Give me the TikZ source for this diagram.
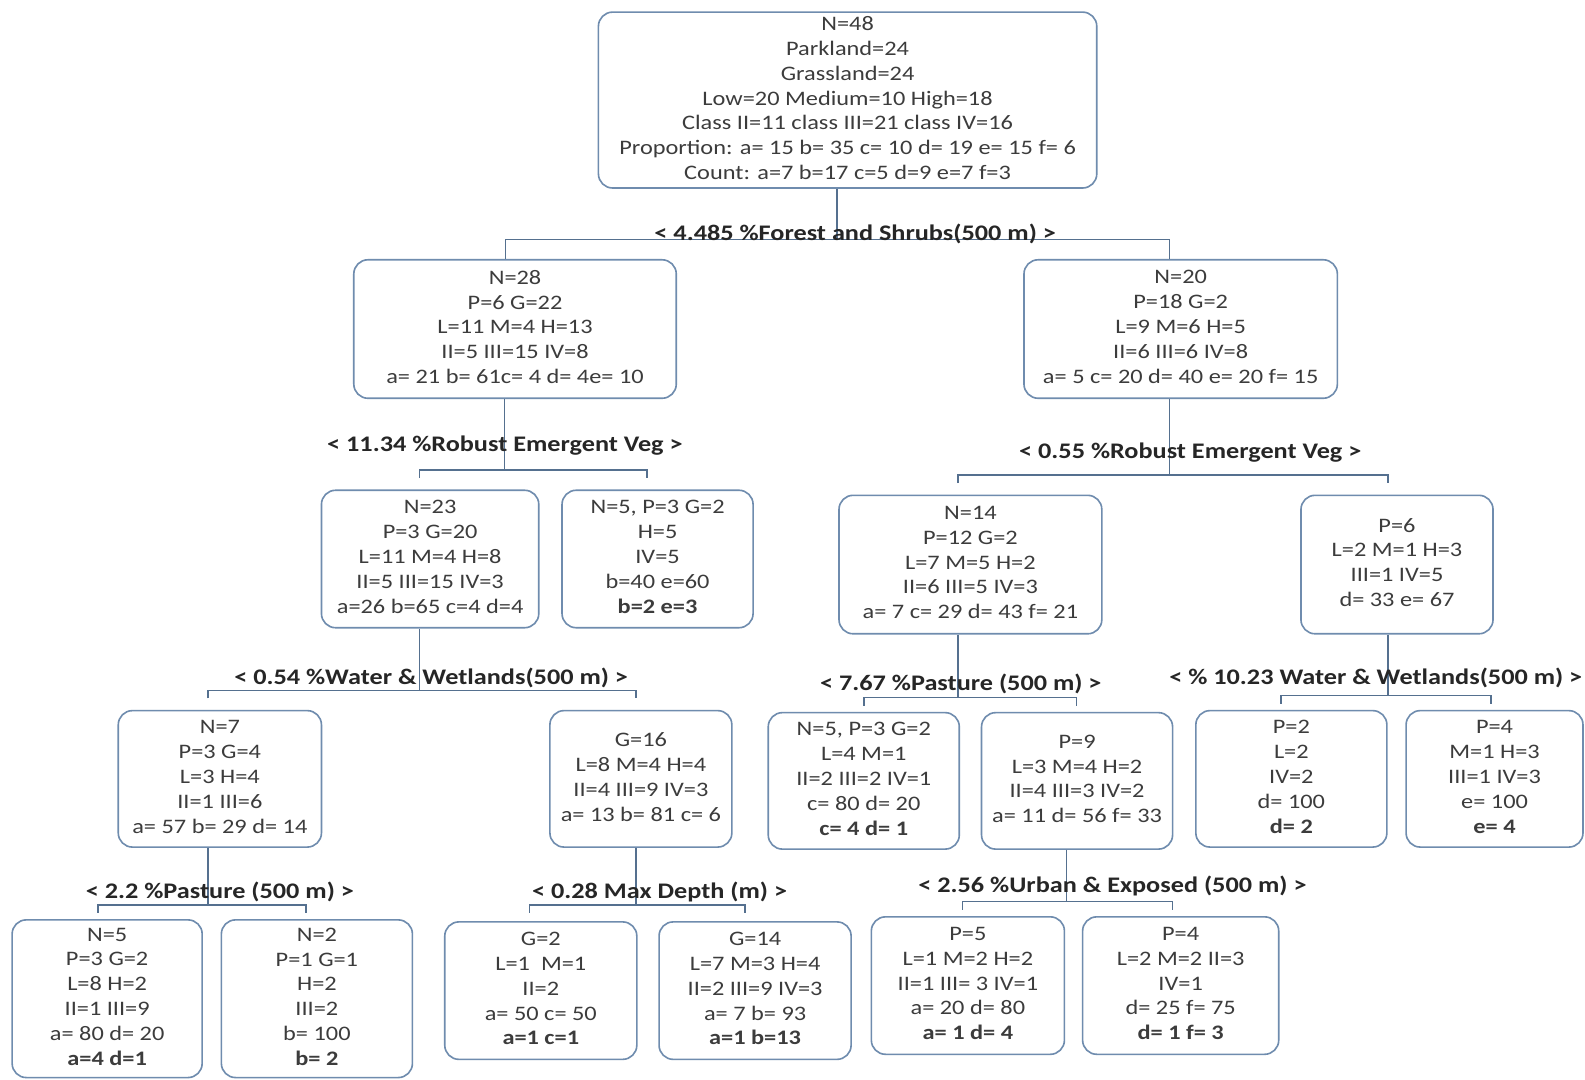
\documentclass[tikz,border=0pt]{standalone}
\usepackage{fontspec}
\setmainfont{Carlito}[FakeStretch=1.18]
\definecolor{boxc}{HTML}{6F8CAE}
\definecolor{linec}{HTML}{55708F}
\definecolor{txtc}{HTML}{3C3C3C}
\definecolor{lblc}{HTML}{262626}
\newcommand\bxnode[5]{\node[bx={#3}{#4}] (#1) at (#2) {}; \node[tx] (#1t) at ([yshift=1pt]#1.center) {#5};}
\begin{document}
\begin{tikzpicture}[x=0.5pt,y=-0.5pt,
 bx/.style n args={2}{draw=boxc, line width=0.8pt, rounded corners=7pt, fill=white, inner sep=0pt, minimum width=#1*0.5pt, minimum height=#2*0.5pt},
 tx/.style={align=center, text=txtc, font=\fontsize{10.2}{12.3}\selectfont, inner sep=0pt},
 lbl/.style={font=\bfseries\fontsize{11}{13}\selectfont, text=lblc, anchor=base, inner sep=0pt},
 conn/.style={draw=linec, line width=0.8pt}]
\useasboundingbox[fill=white] (0,0) rectangle (1568,1068);

% ---- boxes ----
\bxnode{root}{838.5,99}{493}{174}{N=48\\Parkland=24\\Grassland=24\\Low=20 Medium=10 High=18\\Class II=11 class III=21 class IV=16\\Proportion: a= 15 b= 35 c= 10 d= 19 e= 15 f= 6\\Count: a=7 b=17 c=5 d=9 e=7 f=3}
\bxnode{L}{509.5,325.5}{319}{137}{N=28\\P=6 G=22\\L=11 M=4 H=13\\II=5 III=15 IV=8\\a= 21 b= 61c= 4 d= 4e= 10}
\bxnode{R}{1168,325.5}{310}{137}{N=20\\P=18 G=2\\L=9 M=6 H=5\\II=6 III=6 IV=8\\a= 5 c= 20 d= 40 e= 20 f= 15}
\bxnode{LL}{425.5,553}{215}{136}{N=23\\P=3 G=20\\L=11 M=4 H=8\\II=5 III=15 IV=3\\a=26 b=65 c=4 d=4}
\bxnode{LR}{650.5,553}{189}{136}{N=5, P=3 G=2\\H=5\\IV=5\\b=40 e=60\\\textbf{b=2 e=3}}
\bxnode{RL}{960,558.5}{260}{137}{N=14\\P=12 G=2\\L=7 M=5 H=2\\II=6 III=5 IV=3\\a= 7 c= 29 d= 43 f= 21}
\bxnode{RR}{1382,558.5}{190}{137}{P=6\\L=2 M=1 H=3\\III=1 IV=5\\d= 33 e= 67}
\bxnode{LLL}{217.5,770.5}{201}{135}{N=7\\P=3 G=4\\L=3 H=4\\II=1 III=6\\a= 57 b= 29 d= 14}
\bxnode{LLR}{634,770.5}{180}{135}{G=16\\L=8 M=4 H=4\\II=4 III=9 IV=3\\a= 13 b= 81 c= 6}
\bxnode{RLL}{854.5,772.5}{189}{135}{N=5, P=3 G=2\\L=4 M=1\\II=2 III=2 IV=1\\c= 80 d= 20\\\textbf{c= 4 d= 1}}
\bxnode{RLR}{1065.5,772.5}{189}{135}{P=9\\L=3 M=4 H=2\\II=4 III=3 IV=2\\a= 11 d= 56 f= 33}
\bxnode{RRL}{1277.5,770.5}{189}{135}{P=2\\L=2\\IV=2\\d= 100\\\textbf{d= 2}}
\bxnode{RRR}{1478.5,770.5}{175}{135}{P=4\\M=1 H=3\\III=1 IV=3\\e= 100\\\textbf{e= 4}}
\bxnode{LLLL}{106,988}{188}{156}{N=5\\P=3 G=2\\L=8 H=2\\II=1 III=9\\a= 80 d= 20\\\textbf{a=4 d=1}}
\bxnode{LLLR}{313.5,988}{189}{156}{N=2\\P=1 G=1\\H=2\\III=2\\b= 100\\\textbf{b= 2}}
\bxnode{LLRL}{535,980}{190}{136}{G=2\\L=1\ \ M=1\\II=2\\a= 50 c= 50\\\textbf{a=1 c=1}}
\bxnode{LLRR}{747,980}{190}{136}{G=14\\L=7 M=3 H=4\\II=2 III=9 IV=3\\a= 7 b= 93\\\textbf{a=1 b=13}}
\bxnode{RLRL}{957.5,975}{191}{136}{P=5\\L=1 M=2 H=2\\II=1 III= 3 IV=1\\a= 20 d= 80\\\textbf{a= 1 d= 4}}
\bxnode{RLRR}{1168,975}{194}{136}{P=4\\L=2 M=2 II=3\\IV=1\\d= 25 f= 75\\\textbf{d= 1 f= 3}}

% ---- split coordinates ----
\coordinate (s0) at (828,237);  \coordinate (b0l) at (500,237);  \coordinate (b0r) at (1157,237);
\coordinate (s1) at (499,465);  \coordinate (b1l) at (415,465);  \coordinate (b1r) at (640,465);
\coordinate (s2) at (1157,470); \coordinate (b2l) at (948,470);  \coordinate (b2r) at (1373,470);
\coordinate (s3) at (415,683);  \coordinate (b3l) at (206,683);  \coordinate (b3r) at (629,683);
\coordinate (s4) at (948,690);  \coordinate (b4l) at (855,690);  \coordinate (b4r) at (1065,690);
\coordinate (s5) at (1373,688); \coordinate (b5l) at (1267,688); \coordinate (b5r) at (1475,688);
\coordinate (s6) at (206,895);  \coordinate (b6l) at (97,895);   \coordinate (b6r) at (303,895);
\coordinate (s7) at (629,895);  \coordinate (b7l) at (524,895);  \coordinate (b7r) at (737,895);
\coordinate (s8) at (1055,892); \coordinate (b8l) at (952,892);  \coordinate (b8r) at (1160,892);

% ---- connectors ----
\draw[conn] (root.south -| s0) -- (s0);
\draw[conn] (L.north -| b0l) -- (b0l) -- (b0r) -- (R.north -| b0r);
\draw[conn] (L.south -| s1) -- (s1);
\draw[conn] ([yshift=-4pt]b1l) -- (b1l) -- (b1r) -- ([yshift=-4pt]b1r);
\draw[conn] (R.south -| s2) -- (s2);
\draw[conn] ([yshift=-4pt]b2l) -- (b2l) -- (b2r) -- ([yshift=-4pt]b2r);
\draw[conn] (LL.south -| s3) -- (s3);
\draw[conn] ([yshift=-4pt]b3l) -- (b3l) -- (b3r) -- ([yshift=-4pt]b3r);
\draw[conn] (RL.south -| s4) -- (s4);
\draw[conn] ([yshift=-4pt]b4l) -- (b4l) -- (b4r) -- ([yshift=-4pt]b4r);
\draw[conn] (RR.south -| s5) -- (s5);
\draw[conn] ([yshift=-4pt]b5l) -- (b5l) -- (b5r) -- ([yshift=-4pt]b5r);
\draw[conn] (LLL.south -| s6) -- (s6);
\draw[conn] ([yshift=-4pt]b6l) -- (b6l) -- (b6r) -- ([yshift=-4pt]b6r);
\draw[conn] (LLR.south -| s7) -- (s7);
\draw[conn] ([yshift=-4pt]b7l) -- (b7l) -- (b7r) -- ([yshift=-4pt]b7r);
\draw[conn] (RLR.south -| s8) -- (s8);
\draw[conn] ([yshift=-4pt]b8l) -- (b8l) -- (b8r) -- ([yshift=-4pt]b8r);

% ---- split labels ----
\node[lbl] (l0) at (846,238) {< 4.485 \%Forest and Shrubs(500 m) >};
\node[lbl] (l1) at (499.5,447) {< 11.34 \%Robust Emergent Veg >};
\node[lbl] (l2) at (1177.5,454) {< 0.55 \%Robust Emergent Veg >};
\node[lbl] (l3) at (426.5,677) {< 0.54 \%Water \& Wetlands(500 m) >};
\node[lbl] (l4) at (950.5,683) {< 7.67 \%Pasture (500 m) >};
\node[lbl] (l5) at (1361,677) {< \% 10.23 Water \& Wetlands(500 m) >};
\node[lbl] (l6) at (217.5,889) {< 2.2 \%Pasture (500 m) >};
\node[lbl] (l7) at (652.5,889) {< 0.28 Max Depth (m) >};
\node[lbl] (l8) at (1100.5,883) {< 2.56 \%Urban \& Exposed (500 m) >};
\end{tikzpicture}
\end{document}
